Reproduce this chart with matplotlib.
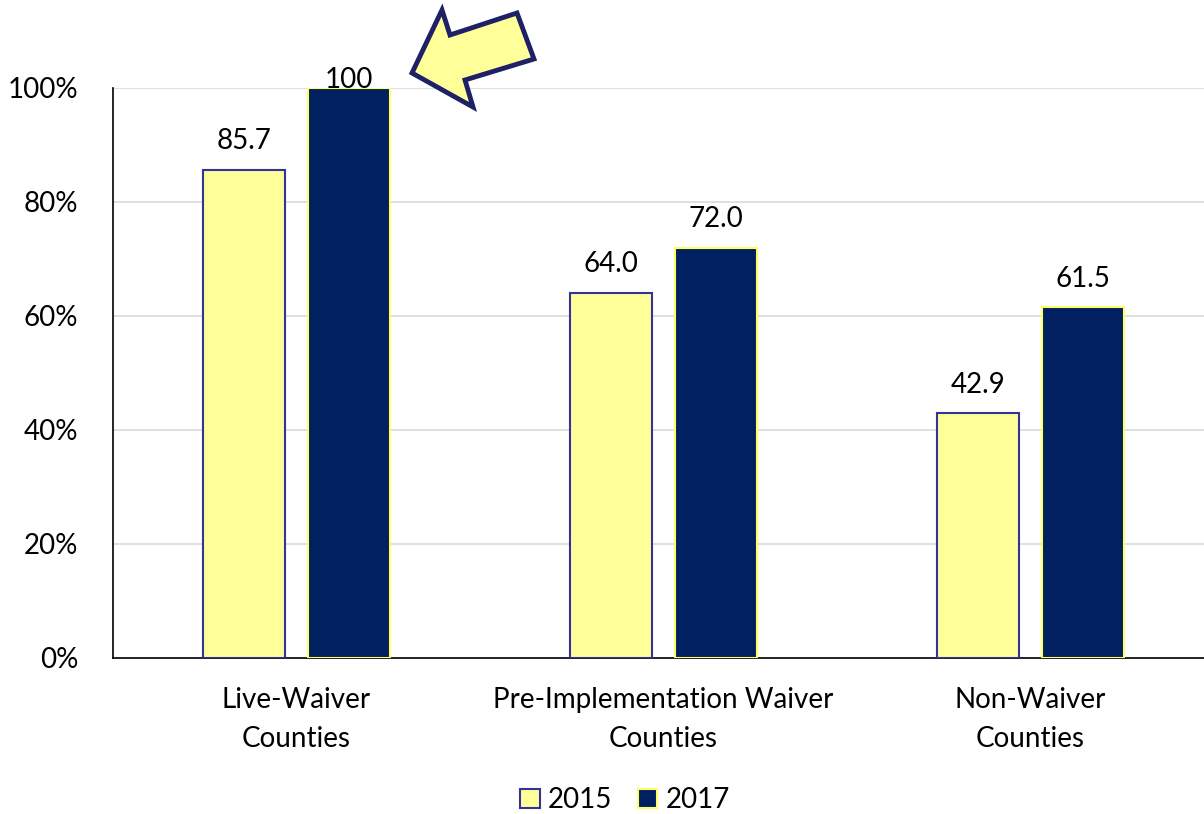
import numpy as np
import matplotlib.pyplot as plt
from matplotlib.patches import Polygon

plt.rcParams['font.family'] = ['Lato', 'DejaVu Sans']

categories = ['Live-Waiver\nCounties', 'Pre-Implementation Waiver\nCounties', 'Non-Waiver\nCounties']
vals_2015 = [85.7, 64.0, 42.9]
vals_2017 = [100, 72.0, 61.5]
labels_2015 = ['85.7', '64.0', '42.9']
labels_2017 = ['100', '72.0', '61.5']
yticks = [0, 20, 40, 60, 80, 100]

fs = 20

fig = plt.figure(figsize=(12.04, 8.14), dpi=100)
ax = fig.add_axes([113/1204, 1 - 658/814, 1101/1204, 570/814])

x = np.arange(len(categories))
w = 0.224
off = 0.143
b1 = ax.bar(x - off, vals_2015, w, color='#FFFF99', edgecolor='#333399', linewidth=1.5, label='2015', zorder=3)
b2 = ax.bar(x + off, vals_2017, w, color='#002060', edgecolor='#FFFF66', linewidth=1.5, label='2017', zorder=3)

def put_labels(xs, vals, texts):
    for xi, v, t in zip(xs, vals, texts):
        # the label of a full bar sits on its top edge, the rest above
        dy = 0 if v >= 100 else 15
        ax.annotate(t, (xi, v), xytext=(0, dy), textcoords='offset points',
                    ha='center', va='baseline', fontsize=fs, zorder=5)

put_labels(x - off, vals_2015, labels_2015)
put_labels(x + off, vals_2017, labels_2017)

ax.set_xlim(-0.5, 2.5)
ax.set_ylim(0, 100)
ax.set_yticks(yticks)
ax.set_yticklabels([f'{t}%' for t in yticks], fontsize=fs)
ax.set_xticks(x)
ax.set_xticklabels(categories, fontsize=fs, linespacing=1.6)
ax.tick_params(axis='x', length=0, pad=21)
ax.tick_params(axis='y', length=0, pad=25)
ax.grid(axis='y', color='#D9D9D9', linewidth=1.2, zorder=0)
ax.set_axisbelow(True)
for s in ['top', 'right']:
    ax.spines[s].set_visible(False)
ax.spines['left'].set_linewidth(1.2)
ax.spines['bottom'].set_linewidth(1.2)

fig.legend(handles=[b1, b2], loc='center', bbox_to_anchor=(625/1204, 1 - 800/814), ncol=2,
           frameon=False, fontsize=fs, handlelength=0.7, handleheight=0.7,
           handletextpad=0.3, columnspacing=0.9)

# callout arrow pointing at the 100 bar
pts = [(412, 73), (442, 10), (450, 35), (517, 13), (534, 59), (465, 80), (473, 107)]
arrow = Polygon([(px / 1204, 1 - py / 814) for px, py in pts], closed=True,
                facecolor='#FFFF99', edgecolor='#1F2166', linewidth=3.5,
                transform=fig.transFigure, zorder=10)
fig.patches.append(arrow)

plt.savefig('out.png', dpi=100)
